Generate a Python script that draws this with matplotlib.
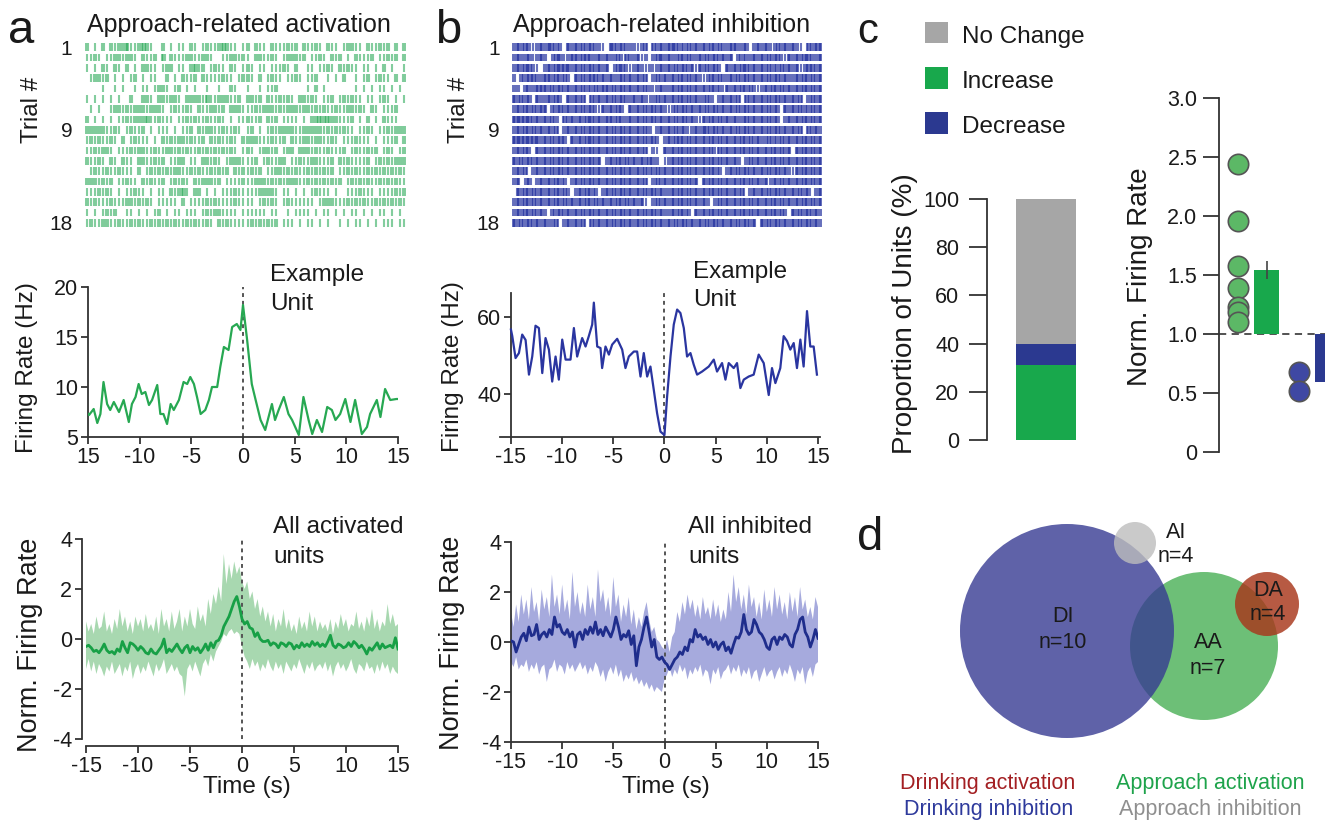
import numpy as np
import matplotlib
matplotlib.use("Agg")
import matplotlib.pyplot as plt
from matplotlib.patches import Circle, Rectangle

plt.rcParams['font.family'] = ['Liberation Sans', 'DejaVu Sans']
plt.rcParams['axes.unicode_minus'] = False

# ---------------- DATA ----------------
# Raster rows: one digit per time bin (-15..15 s), digit = number of spikes
RASTER_ACT = [
    "2010202122311232100201011021012112321101" "2021102111212021121021101221102112120202",
    "1121011221221021120302111221122100112212" "1022112101222120112102120102111201121202",
    "1010210210201022110122011023120121102101" "2101101112102001101121021211011010201001",
    "0122120101012010110020102112021111211012" "2102012110112101120010102001012012110202",
    "0000100101001011012210120101001001002100" "1001011200000001020100000001010101101010",
    "1010101010020022102212210222213112221120" "2212021121210221210112012121101101210101",
    "0101001221212221222101211210211221202221" "1121222121222122121211211221210210111200",
    "2010101011212223112111011212112112101011" "2112021201111010223232211120102010211100",
    "2222211210121120101110101120212211211210" "1201012122221122222121212110112101121222",
    "1212112102012111010212122121120212112102" "2221112112021122122112101112111010111202",
    "1121221011121221121122121211212121212101" "2101221201220222121121112012112120121012",
    "2112102102110221121201122011022121012221" "1120121122011211221112021211112012121222",
    "0121121121110201212121221121211212120212" "1212011221212112121212011212112121212121",
    "2221212011211021211201212102122212011112" "1122212121222112121212120121212112121211",
    "1112121010112110101102123102201010111211" "1112222101101010121110100111211101111212",
    "2121112111221212101111102011112121111211" "1101212101211111101222111212121121212121",
    "1010121200110101012010110111012122111101" "1111101100101111010110101011010101101010",
    "1211221121121211212121211212112102121111" "1212121201110101101010010101101010111011",
]
RASTER_INH = [
    "2323212323322032323232210332322212303232" "3332232323232322332230232321323232103233",
    "2322312320233123323322323223132231202332" "3223232232323232303222323232321323233223",
    "2323321023233332323232323023321232121232" "3232323132323203232332323232232323123323",
    "2032332233232320323233232322323232302323" "2323232321232322323232323232323223232323",
    "2203223332323232323223233232323232321232" "2323232323232313232323212323232323232323",
    "3232303223232032323032323232322323212323" "2323232322320232323032323232323232302323",
    "2323232330323232323232132323203232323232" "1232323232323232323232323232303232322323",
    "3333323232320323232332323323223232323232" "3232323213232323232232323232302323232323",
    "2323232323230232323232323232323232320232" "3232312323323232323232323232323232303232",
    "3333333232323303232332323232323232323202" "3233232323232323232323232232232323232323",
    "2323203232323232323232323232323232302103" "2323232323231323232323232323232303232323",
    "3232323232323232323232302323232323232201" "2323232323232323232023232323232323232323",
    "2323023232323232323232323232323232322323" "2323232323232302323232323232323213232323",
    "2302302323232302323232323232323232302323" "2323232303232323232323232313232323232323",
    "0323232323232320232323023232323232323232" "2323232323232323232302323232323232323023",
    "2323232323232323232323232323232323102323" "2323232323202323232323232323232323232323",
    "2323232320323232323232323232323232323232" "2323230323232323232323232323232032323232",
    "3232323232230232323032323232323232323232" "3232323232323232323232303232323232323232",
]

# Example unit (a): time (s) and firing rate (Hz)
ACT_UNIT_T = [-15.0, -14.9, -14.45, -14.1, -13.8, -13.5, -13.15, -12.85, -12.5, -12.0,
              -11.55, -11.05, -10.75, -10.4, -10.1, -9.8, -9.45, -9.1, -8.8, -8.3,
              -8.0, -7.7, -7.35, -7.0, -6.7, -6.2, -5.75, -5.4, -5.1, -4.75,
              -4.45, -4.1, -3.65, -3.3, -3.0, -2.5, -2.2, -1.85, -1.4, -1.05,
              -0.6, -0.25, 0.0, 0.4, 0.85, 1.2, 1.7, 2.15, 2.8, 3.1,
              3.45, 3.95, 4.4, 4.75, 5.4, 5.85, 6.35, 6.7, 7.15, 7.65,
              8.15, 8.6, 8.95, 9.4, 9.9, 10.4, 10.85, 11.5, 12.0, 12.3,
              12.95, 13.3, 13.75, 14.25, 14.85, 15.0]
ACT_UNIT_HZ = [7.3, 7.2, 7.8, 6.4, 7.3, 10.5, 8.3, 7.7, 8.5, 7.5,
               8.7, 6.5, 8.3, 9.0, 10.3, 9.3, 9.5, 8.2, 8.7, 10.2,
               7.3, 7.3, 6.3, 8.3, 7.7, 8.7, 10.5, 10.3, 11.0, 10.3,
               9.0, 7.3, 7.7, 8.7, 10.0, 10.0, 12.0, 14.0, 13.7, 16.0,
               16.3, 15.7, 18.2, 14.7, 10.3, 8.8, 6.7, 5.7, 8.3, 6.7,
               7.7, 9.0, 7.3, 6.7, 5.2, 9.0, 6.7, 5.3, 6.7, 5.5,
               8.0, 7.7, 6.7, 7.3, 8.8, 6.5, 8.7, 5.3, 6.0, 7.3,
               8.7, 7.0, 9.8, 8.7, 8.8, 8.8]

# Example unit (b)
INH_UNIT_T = [-15.0, -14.87, -14.55, -14.22, -13.9, -13.57, -13.24, -12.92, -12.6, -12.27,
              -11.94, -11.62, -11.29, -10.97, -10.64, -10.32, -9.99, -9.66, -9.18, -8.85,
              -8.53, -8.04, -7.71, -7.39, -7.06, -6.9, -6.57, -6.25, -6.09, -5.76,
              -5.43, -5.11, -4.62, -4.13, -3.81, -3.48, -2.99, -2.67, -2.34, -2.02,
              -1.69, -1.37, -1.04, -0.72, -0.39, 0.0, 0.26, 0.59, 0.91, 1.24,
              1.56, 1.89, 2.21, 2.54, 2.86, 3.19, 3.68, 4.33, 4.82, 5.14,
              5.63, 5.96, 6.28, 6.77, 7.09, 7.42, 7.75, 8.23, 8.72, 9.21,
              9.7, 10.19, 10.51, 10.84, 11.32, 11.65, 11.98, 12.3, 12.63, 12.95,
              13.28, 13.6, 13.93, 14.25, 14.58, 14.9]
INH_UNIT_HZ = [56.7, 55.0, 49.3, 50.6, 55.4, 54.0, 45.0, 49.7, 57.7, 57.1,
               45.4, 54.5, 51.5, 43.2, 49.7, 43.7, 54.1, 48.9, 48.9, 57.1,
               49.7, 54.5, 52.3, 55.0, 58.0, 63.7, 52.3, 51.9, 46.7, 52.3,
               50.2, 52.8, 54.3, 51.5, 46.7, 49.7, 51.0, 51.0, 44.5, 50.6,
               44.5, 47.1, 41.0, 35.0, 30.2, 29.3, 39.3, 49.7, 58.0, 61.9,
               61.0, 57.1, 49.7, 50.6, 47.6, 45.0, 45.8, 47.1, 48.9, 45.8,
               48.0, 43.7, 48.0, 46.7, 48.0, 41.5, 43.7, 44.5, 45.0, 50.2,
               48.0, 39.7, 46.7, 42.8, 46.7, 55.0, 53.7, 51.5, 53.2, 46.7,
               54.1, 47.1, 61.5, 52.3, 52.3, 45.0]

# Population averages (-15..15 s, evenly sampled)
ACT_MEAN = [-0.3, -0.25, -0.35, -0.5, -0.45, -0.55, -0.4, -0.2, -0.45, -0.55,
            -0.5, -0.6, -0.4, -0.5, -0.1, -0.35, -0.55, -0.15, -0.2, -0.3,
            -0.45, -0.3, -0.4, -0.55, -0.6, -0.4, -0.55, -0.6, -0.45, -0.3,
            0.0, -0.55, -0.4, -0.5, -0.35, -0.2, -0.4, -0.55, -0.35, -0.25,
            -0.55, -0.3, -0.45, -0.35, -0.55, -0.4, -0.2, -0.45, -0.15, -0.35,
            -0.1, -0.05, 0.15, 0.5, 0.7, 0.9, 1.2, 1.5, 1.7, 1.3,
            0.8, 0.6, 0.7, 0.45, 0.4, 0.1, 0.25, 0.0, -0.1, -0.1,
            -0.05, -0.25, -0.15, -0.2, -0.35, -0.15, -0.2, -0.3, -0.15, -0.2,
            -0.4, -0.25, -0.35, -0.15, -0.3, -0.2, -0.3, -0.1, -0.25, -0.15,
            -0.3, -0.2, -0.3, -0.1, 0.15, -0.25, -0.35, -0.2, -0.25, -0.35,
            -0.3, -0.15, -0.3, -0.1, -0.2, -0.35, -0.25, -0.4, -0.6, -0.35,
            -0.45, -0.3, -0.15, -0.4, -0.2, -0.35, -0.3, -0.25, -0.35, 0.05,
            -0.4]
ACT_UPPER = [0.7, 0.3, 0.6, 0.2, 0.9, 0.4, 0.5, 1.1, 0.3, 0.6,
             0.2, 0.8, 0.4, 1.2, 0.5, 0.9, 0.3, 0.7, 0.2, 0.9,
             0.5, 0.8, 0.3, 1.0, 0.4, 0.6, 0.3, 0.9, 0.2, 1.2,
             0.5, 0.8, 0.3, 1.1, 0.4, 0.7, 1.2, 0.3, 0.9, 0.5,
             1.2, 0.6, 0.4, 1.3, 0.7, 1.0, 0.5, 1.6, 1.0, 1.8,
             1.4, 2.1, 1.5, 3.4, 2.2, 3.0, 2.4, 3.1, 2.6, 2.9,
             2.3, 2.0, 2.3, 1.6, 1.9, 1.2, 1.6, 0.9, 1.3, 0.7,
             1.1, 0.5, 1.0, 0.3, 0.8, 0.5, 1.2, 0.4, 0.8, 0.3,
             0.6, 0.2, 0.9, 0.4, 0.7, 0.3, 1.1, 0.5, 0.9, 0.3,
             0.7, 0.4, 0.6, 0.3, 0.8, 0.2, 0.7, 0.4, 1.0, 0.5,
             0.8, 0.3, 0.6, 0.5, 1.1, 0.4, 0.7, 0.3, 0.9, 0.5,
             1.2, 0.4, 0.8, 0.3, 0.7, 0.5, 1.4, 0.6, 1.0, 0.5,
             0.6]
ACT_LOWER = [-1.2, -0.8, -1.3, -0.9, -1.4, -1.0, -1.2, -1.5, -1.1, -1.3,
             -0.9, -1.4, -1.2, -1.0, -1.5, -1.1, -1.3, -0.9, -1.6, -1.2,
             -1.0, -1.4, -1.1, -1.3, -0.9, -1.2, -1.5, -1.0, -1.3, -1.1,
             -0.8, -1.4, -1.2, -1.0, -1.3, -1.1, -1.4, -1.5, -2.3, -1.2,
             -1.0, -1.3, -0.9, -1.2, -1.5, -1.0, -0.8, -1.1, -0.6, -0.9,
             -0.5, -0.3, -0.1, 0.2, 0.1, 0.3, 0.4, 0.2, 0.3, 0.2,
             -0.3, -0.7, -0.9, -1.2, -0.8, -1.1, -0.9, -1.3, -1.0, -1.2,
             -0.8, -1.1, -1.3, -0.9, -1.2, -1.0, -1.4, -0.9, -1.1, -1.3,
             -1.0, -1.2, -0.8, -1.1, -1.4, -1.0, -1.2, -0.9, -1.3, -1.1,
             -1.0, -1.2, -0.9, -1.3, -1.0, -1.5, -1.1, -0.9, -1.2, -1.0,
             -1.3, -1.1, -0.8, -1.2, -1.4, -1.0, -1.1, -1.3, -0.9, -1.2,
             -1.1, -1.4, -1.0, -1.3, -0.9, -1.2, -1.0, -1.4, -1.1, -1.3,
             -1.4]

INH_MEAN = [0.05, 0.0, -0.4, -0.1, 0.2, 0.35, 0.05, 0.6, 0.25, 0.3,
            0.7, 0.1, 0.3, 0.4, 0.2, 0.5, 0.3, 1.0, 0.6, 0.7,
            0.4, 0.3, 0.5, 0.2, 0.4, -0.2, 0.3, 0.4, 0.1, 0.5,
            0.3, 0.6, 0.35, 0.8, 0.3, 0.5, 0.25, 0.6, 0.4, 0.2,
            0.5, 1.0, 0.6, 0.1, 0.3, 0.2, 0.45, -0.1, 0.25, -0.95,
            -0.2, 0.1, 0.6, 1.0, 0.4, -0.2, 0.1, -0.6, -0.7, -0.6,
            -0.8, -0.9, -1.1, -0.9, -0.7, -0.6, -0.4, -0.5, -0.2, -0.35,
            0.1, 0.0, 0.5, 0.2, 0.3, 0.1, 0.2, -0.1, 0.1, -0.2,
            0.0, -0.3, -0.1, 0.0, -0.35, -0.2, -0.45, -0.1, 0.2, 0.15,
            0.4, 1.1, 0.5, 0.3, 0.4, 0.9, 0.7, 0.4, 0.3, 0.1,
            -0.2, -0.3, 0.1, 0.2, -0.1, 0.2, 0.1, 0.3, 0.2, -0.1,
            -0.2, 0.3, 0.5, 0.9, 1.0, 0.4, 0.2, -0.2, 0.1, 0.5,
            0.15]
INH_UPPER = [1.2, 0.6, 1.5, 0.8, 1.9, 1.1, 1.7, 0.9, 2.2, 1.2,
             1.6, 0.8, 2.1, 1.3, 1.8, 1.0, 2.7, 1.4, 1.9, 1.1,
             2.3, 1.2, 1.7, 0.9, 2.8, 1.4, 2.0, 1.1, 1.6, 1.0,
             2.3, 1.3, 1.8, 1.0, 2.9, 1.6, 2.1, 1.2, 1.8, 1.0,
             2.6, 1.4, 1.9, 0.8, 1.5, 1.0, 1.8, 0.7, 1.3, 0.5,
             1.0, 0.6, 1.2, 1.6, 0.9, 0.4, 0.6, 0.1, 0.0, -0.2,
             -0.3, 0.1, -0.4, 0.2, 0.4, 1.2, 0.8, 1.6, 1.1, 1.9,
             1.3, 1.7, 1.0, 1.5, 0.9, 1.8, 1.1, 1.4, 0.9, 1.7,
             1.0, 1.5, 0.8, 1.3, 0.9, 2.0, 1.2, 2.7, 1.6, 2.2,
             1.3, 1.9, 1.1, 2.3, 1.4, 1.8, 1.0, 1.6, 0.9, 2.1,
             1.2, 1.7, 1.0, 2.2, 1.3, 1.9, 1.1, 1.6, 0.9, 2.0,
             1.2, 1.8, 1.0, 2.2, 1.3, 1.7, 1.0, 1.4, 0.9, 1.8,
             1.4]
INH_LOWER = [-0.8, -1.0, -0.6, -1.1, -0.9, -1.0, -0.7, -1.2, -0.9, -1.1,
             -0.8, -1.3, -1.0, -0.9, -1.6, -1.1, -1.0, -0.7, -1.2, -0.9,
             -1.0, -1.3, -0.8, -1.1, -0.9, -1.2, -1.0, -0.8, -1.1, -0.9,
             -1.3, -1.0, -1.2, -0.8, -1.0, -1.4, -1.1, -1.6, -1.2, -1.0,
             -1.3, -0.9, -1.4, -1.1, -1.6, -1.3, -1.5, -1.2, -1.6, -1.4,
             -1.7, -1.5, -1.8, -1.6, -1.9, -1.7, -2.0, -1.8, -1.9, -2.0,
             -1.5, -1.3, -1.0, -1.4, -1.1, -1.3, -0.9, -1.2, -1.0, -1.5,
             -1.1, -1.3, -1.0, -1.2, -0.9, -1.4, -1.1, -1.2, -1.7, -1.1,
             -1.3, -1.0, -1.5, -1.2, -1.1, -0.9, -1.3, -1.0, -1.2, -0.9,
             -1.4, -1.1, -1.3, -1.0, -1.5, -1.2, -1.1, -1.6, -1.3, -1.0,
             -1.4, -1.2, -1.1, -1.5, -1.2, -1.0, -1.4, -1.1, -1.3, -0.9,
             -1.2, -1.6, -1.1, -1.3, -1.0, -1.7, -1.2, -1.0, -1.4, -0.9,
             -0.8]

# Panel c
PROP_CATS = ["Increase", "Decrease", "No Change"]
PROP_VALS = [31, 9, 60]
INC_POINTS = [2.44, 1.96, 1.58, 1.39, 1.23, 1.19, 1.10]
INC_MEAN, INC_SEM = 1.545, 0.075
DEC_POINTS = [0.68, 0.52]
DEC_MEAN = 0.59

# Panel d
VENN_LABELS = ["DI", "AA", "AI", "DA"]
VENN_N = [10, 7, 4, 4]
LEGEND_TEXTS = ["Drinking activation", "Drinking inhibition",
                "Approach activation", "Approach inhibition"]

# ---------------- STYLE ----------------
W, H = 1325, 827
fig = plt.figure(figsize=(W / 100, H / 100), dpi=100)
TXT = "#1a1a1a"
SP = "#333333"
GREEN_BAND = "#a8d8b0"
BLUE_BAND = "#a6aadd"
TICK_FS = 15.5


def ax_px(l, t, r, b):
    return fig.add_axes([l / W, 1 - b / H, (r - l) / W, (b - t) / H])


def ftext(x, y, s, **kw):
    kw.setdefault("color", TXT)
    return fig.text(x / W, 1 - y / H, s, **kw)


def style_axis(ax, tl=5, fs=TICK_FS):
    for s in ["top", "right"]:
        ax.spines[s].set_visible(False)
    for s in ["left", "bottom"]:
        ax.spines[s].set_color(SP)
        ax.spines[s].set_linewidth(1.3)
    ax.tick_params(colors=SP, width=1.3, length=tl, labelsize=fs, labelcolor=TXT, pad=2)


def raster(ax, rows, color, alpha, lw):
    n = len(rows)
    for i, row in enumerate(rows):
        bw = 30.0 / len(row)
        xs = []
        for k, ch in enumerate(row):
            c = int(ch)
            for j in range(c):
                xs.append(-15 + bw * k + bw * (j + 0.5) / c)
        ax.vlines(xs, i + 1 - 0.38, i + 1 + 0.38, color=color, alpha=alpha, lw=lw)
    ax.set_xlim(-15, 15)
    ax.set_ylim(n + 0.5, 0.5)
    ax.set_yticks([1, 9, 18])
    ax.set_xticks([])
    for s in ax.spines.values():
        s.set_visible(False)
    ax.tick_params(length=0, labelsize=15, labelcolor=TXT, pad=9)


TIME_TICKS = [-15, -10, -5, 0, 5, 10, 15]

# ---- a raster ----
axr = ax_px(85, 42, 406, 228)
raster(axr, RASTER_ACT, "#12a045", 0.52, 1.5)
ftext(87, 25, "Approach-related activation", fontsize=18, va="center", ha="left")
ftext(8, 43, "a", fontsize=34, va="baseline", ha="left")
ftext(32, 110, "Trial #", fontsize=17.5, rotation=90, ha="center", va="center")

# ---- b raster ----
axr2 = ax_px(512, 42, 822, 228)
raster(axr2, RASTER_INH, "#1c2a9c", 0.66, 1.5)
ftext(513, 25, "Approach-related inhibition", fontsize=18, va="center", ha="left")
ftext(435, 43, "b", fontsize=34, va="baseline", ha="left")
ftext(459, 110, "Trial #", fontsize=17.5, rotation=90, ha="center", va="center")

# ---- a example unit ----
ax = ax_px(88, 287, 398, 437)
style_axis(ax)
ax.plot(ACT_UNIT_T, ACT_UNIT_HZ, color="#27a852", lw=1.6, zorder=3)
ax.axvline(0, color="#555555", lw=1.4, dashes=(2, 2), zorder=2)
ax.set_xlim(-15, 15)
ax.set_ylim(5, 20)
ax.set_yticks([5, 10, 15, 20])
ax.set_xticks(TIME_TICKS)
ax.set_xticklabels(["15", "-10", "-5", "0", "5", "10", "15"])
ftext(27, 368, "Firing Rate (Hz)", fontsize=17.5, rotation=90, ha="center", va="center")
ftext(270, 275, "Example", fontsize=17.5, va="center")
ftext(270, 304, "Unit", fontsize=17.5, va="center")

# ---- b example unit ----
ax = ax_px(500, 293, 820, 437)
style_axis(ax)
ax.plot(INH_UNIT_T, INH_UNIT_HZ, color="#2a35a0", lw=1.6, zorder=3)
ax.axvline(0, color="#555555", lw=1.4, dashes=(2, 2), zorder=2)
ax.set_xlim(-16.07, 15.2)
ax.spines["left"].set_position(("data", -15))
ax.set_ylim(28.8, 66.2)
ax.set_yticks([40, 60])
ax.set_xticks(TIME_TICKS)
ax.set_xticklabels(["-15", "-10", "-5", "0", "5", "10", "15"])
ftext(453, 367, "Firing Rate (Hz)", fontsize=17.5, rotation=90, ha="center", va="center")
ftext(693, 272, "Example", fontsize=17.5, va="center")
ftext(693, 300, "Unit", fontsize=17.5, va="center")


def pop_panel(ax, mean, upper, lower, lc, bc):
    tu = np.linspace(-15, 15, len(upper))
    tl = np.linspace(-15, 15, len(lower))
    tm = np.linspace(-15, 15, len(mean))
    ax.fill(np.concatenate([tu, tl[::-1]]), np.concatenate([upper, lower[::-1]]),
            color=bc, lw=0, zorder=1)
    ax.axvline(0, color="#555555", lw=1.4, dashes=(2, 2), zorder=2)
    ax.plot(tm, mean, color=lc, lw=2.0, zorder=3)
    ax.set_ylim(-4, 4)
    ax.set_yticks([-4, -2, 0, 2, 4])
    ax.set_xticks(TIME_TICKS)
    ax.set_xticklabels(["-15", "-10", "-5", "0", "5", "10", "15"])


# ---- a population ----
ax = ax_px(86, 539, 398, 739)
style_axis(ax)
pop_panel(ax, ACT_MEAN, np.array(ACT_UPPER), np.array(ACT_LOWER), "#17a046", GREEN_BAND)
ax.set_xlim(-15, 15)
ax.spines["bottom"].set_position(("outward", 5))
ax.spines["left"].set_position(("outward", 3))
ftext(30, 645, "Norm. Firing Rate", fontsize=19.5, rotation=90, ha="center", va="center")
ftext(247, 787, "Time (s)", fontsize=17.5, ha="center", va="center")
ftext(273, 527, "All activated", fontsize=17.5, va="center")
ftext(273, 557, "units", fontsize=17.5, va="center")

# ---- b population ----
ax = ax_px(511, 542, 818, 742)
style_axis(ax)
pop_panel(ax, INH_MEAN, np.array(INH_UPPER), np.array(INH_LOWER), "#1f2d8c", BLUE_BAND)
ax.set_xlim(-15, 15)
ftext(452, 643, "Norm. Firing Rate", fontsize=19.5, rotation=90, ha="center", va="center")
ftext(666, 787, "Time (s)", fontsize=17.5, ha="center", va="center")
ftext(688, 527, "All inhibited", fontsize=17.5, va="center")
ftext(688, 557, "units", fontsize=17.5, va="center")

# ---- c proportion bar ----
STACK_COLORS = {"Increase": "#18a84c", "Decrease": "#2b3990", "No Change": "#a6a6a6"}
ax = ax_px(987, 199, 1105, 440)
style_axis(ax, tl=13, fs=15.5)
ax.tick_params(axis="y", pad=7)
ax.spines["bottom"].set_visible(False)
bottom = 0
for cat, v in zip(PROP_CATS, PROP_VALS):
    ax.bar(0.5, v, width=0.508, bottom=bottom, color=STACK_COLORS[cat], lw=0)
    bottom += v
ax.set_xlim(0, 1)
ax.set_ylim(0, 100)
ax.set_yticks([0, 20, 40, 60, 80, 100])
ax.set_xticks([])
ftext(905, 314, "Proportion of Units (%)", fontsize=20, rotation=90, ha="center", va="center")
ftext(857, 43, "c", fontsize=30, va="baseline", ha="left")

# legend
for (cat, y0, y1) in [("No Change", 22, 43), ("Increase", 67, 89), ("Decrease", 112, 134)]:
    fig.patches.append(Rectangle((925 / W, 1 - y1 / H), 23 / W, (y1 - y0) / H,
                                 transform=fig.transFigure, color=STACK_COLORS[cat], lw=0))
    ftext(962, (y0 + y1) / 2 + 4, cat, fontsize=17.5, va="center", ha="left")

# ---- c norm firing rate ----
ax = ax_px(1219, 98, 1359, 452)
style_axis(ax, tl=11.5, fs=15.5)
ax.tick_params(axis="y", pad=4)
ax.spines["bottom"].set_visible(False)
ax.set_xlim(0, 7)
ax.set_ylim(0, 3)
ax.axhline(1.0, color="#444444", lw=1.3, dashes=(4, 3), zorder=1)
ax.bar(2.375, INC_MEAN - 1.0, bottom=1.0, width=1.25, color="#18a84c", lw=0, zorder=2)
ax.errorbar([2.375], [INC_MEAN], yerr=[INC_SEM], color="#444444", lw=1.2, capsize=0, zorder=3)
ax.bar(5.6, DEC_MEAN - 1.0, bottom=1.0, width=1.6, color="#2b3990", lw=0, zorder=2)
ax.scatter([0.95] * len(INC_POINTS), INC_POINTS, s=215, color="#5cb866",
           edgecolor="#555555", lw=1.2, zorder=4)
ax.scatter([4.0] * len(DEC_POINTS), DEC_POINTS, s=215, color="#3f48a3",
           edgecolor="#555555", lw=1.2, zorder=4)
ax.set_yticks([0, 0.5, 1.0, 1.5, 2.0, 2.5, 3.0])
ax.set_yticklabels(["0", "0.5", "1.0", "1.5", "2.0", "2.5", "3.0"])
ax.set_xticks([])
ftext(1140, 277, "Norm. Firing Rate", fontsize=20, rotation=90, ha="center", va="center")

# ---- d venn ----
axd = ax_px(880, 495, 1325, 765)
axd.set_xlim(880, 1325)
axd.set_ylim(765, 495)
axd.axis("off")
VENN_GEOM = {"AA": (1204, 646, 74, "#6dbf77", 1.0, 1),
             "DI": (1067, 631, 107, "#373b92", 0.8, 2),
             "AI": (1135, 543, 21, "#bdbdbd", 0.8, 3),
             "DA": (1267, 604, 32, "#a8361a", 0.82, 3)}
for lab in ["AA", "DI", "AI", "DA"]:
    cx, cy, r, col, a, z = VENN_GEOM[lab]
    axd.add_patch(Circle((cx, cy), r, facecolor=col, alpha=a, lw=0, zorder=z))
VENN_TEXT_POS = {"DI": (1063, 617), "AA": (1208, 643), "AI": (1176, 532), "DA": (1268, 590)}
for lab, n in zip(VENN_LABELS, VENN_N):
    x, y = VENN_TEXT_POS[lab]
    axd.text(x, y, lab, fontsize=15.5, ha="center", va="center", color=TXT, zorder=5)
    axd.text(x, y + 25, f"n={n}", fontsize=15.5, ha="center", va="center", color=TXT, zorder=5)
ftext(857, 550, "d", fontsize=34, va="baseline", ha="left")

LEG_COLORS = ["#a31f22", "#2e3a9c", "#1ea34b", "#8f8f8f"]
LEG_POS = [(988, 784), (989, 810), (1210, 784), (1210, 810)]
for s, c, (x, y) in zip(LEGEND_TEXTS, LEG_COLORS, LEG_POS):
    ftext(x, y, s, fontsize=15.5, color=c, ha="center", va="center")

fig.savefig("out.png", dpi=100)
